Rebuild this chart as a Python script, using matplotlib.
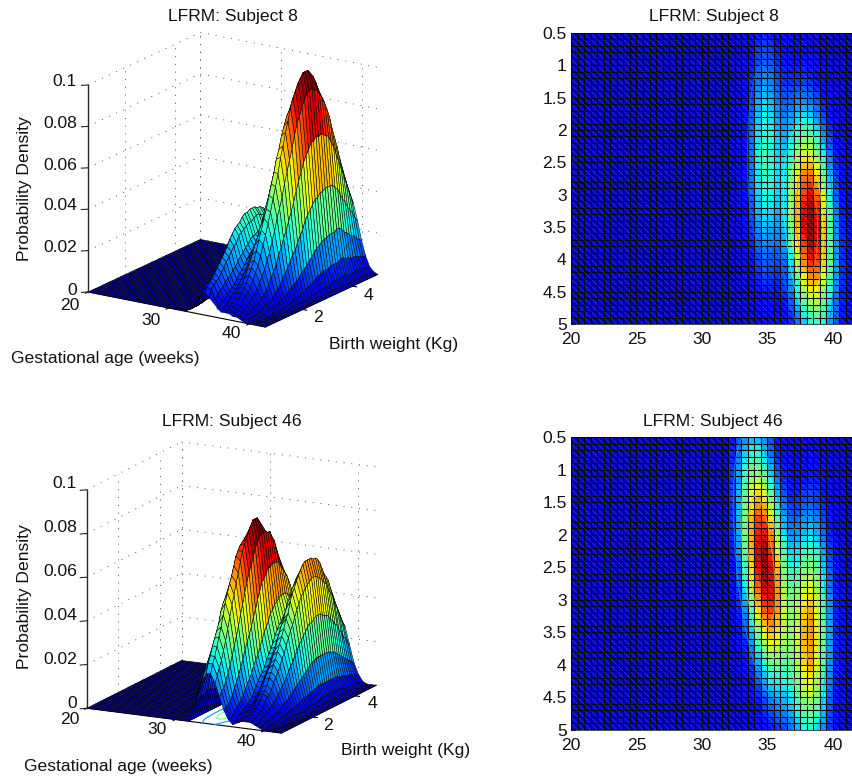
import numpy as np
import matplotlib
matplotlib.use('Agg')
import matplotlib.pyplot as plt
from matplotlib.collections import LineCollection
from matplotlib.colors import Normalize

plt.rcParams['font.family'] = ['Liberation Sans', 'DejaVu Sans']
FS = 12.6
W, H = 852, 781

# grid: 0.5 weeks x 0.1 kg
weeks = np.arange(20, 42.01, 0.5)
weights = np.arange(0.5, 5.01, 0.1)

# density x 1000, columns are 32 .. 42 weeks (below 32 weeks it is flat zero)
subject8 = [
    [0,1,2,6,9,11,9,7,5,3,3,3,2,2,1,0,0,0,0,0,0],
    [0,1,3,7,11,13,12,8,5,4,4,4,3,2,1,1,0,0,0,0,0],
    [0,1,3,8,13,15,14,10,7,5,5,5,4,3,2,1,0,0,0,0,0],
    [0,1,3,8,14,16,15,11,7,6,6,6,5,4,2,1,0,0,0,0,0],
    [0,1,4,9,15,18,16,12,9,8,8,8,7,5,3,1,1,0,0,0,0],
    [0,2,4,10,17,20,18,14,10,9,10,10,9,6,4,2,1,0,0,0,0],
    [0,2,4,11,19,22,20,15,11,11,12,12,10,8,5,2,1,0,0,0,0],
    [0,2,5,12,20,24,22,16,12,12,13,14,12,9,5,3,1,0,0,0,0],
    [1,2,5,13,22,26,24,18,14,14,16,17,15,11,7,4,2,1,0,0,0],
    [1,2,6,14,24,28,26,19,16,16,19,20,18,14,8,4,2,1,0,0,0],
    [1,2,6,15,26,31,28,21,17,18,22,23,21,16,10,5,2,1,0,0,0],
    [1,3,6,16,27,33,29,23,19,21,25,27,25,19,12,6,3,1,0,0,0],
    [1,3,7,17,29,35,32,24,21,24,29,32,30,23,15,8,3,1,0,0,0],
    [1,3,7,18,30,36,33,26,23,26,32,36,34,26,17,9,4,1,0,0,0],
    [1,3,7,19,31,37,34,27,24,28,36,41,39,31,20,11,5,2,1,0,0],
    [1,3,8,19,32,39,35,29,26,31,39,45,44,35,24,13,6,2,1,0,0],
    [1,3,8,20,33,40,36,30,27,34,44,51,50,41,27,15,7,3,1,0,0],
    [1,3,8,20,33,40,36,30,29,36,47,56,55,45,31,17,8,3,1,0,0],
    [1,3,8,20,34,41,37,31,30,38,52,61,61,50,34,20,9,3,1,0,0],
    [1,3,8,20,34,41,38,32,32,41,56,67,68,56,38,22,10,4,1,0,0],
    [1,3,8,20,34,41,38,33,33,43,59,71,73,61,42,24,11,4,1,0,0],
    [1,3,8,20,33,40,37,32,33,46,63,77,79,66,46,27,13,5,2,0,0],
    [1,3,8,20,33,40,37,32,34,47,65,81,84,71,51,30,14,6,2,1,0],
    [1,3,8,19,32,39,36,32,34,48,68,85,90,77,55,32,15,6,2,1,0],
    [1,3,7,19,31,38,35,31,33,48,69,87,94,82,59,36,17,7,2,1,0],
    [1,3,7,18,30,36,34,30,33,49,70,89,97,85,63,38,18,8,3,1,0],
    [1,3,7,17,29,35,33,29,33,49,72,92,100,89,66,40,20,9,3,1,0],
    [1,3,6,16,27,33,31,27,32,49,72,93,102,92,68,42,21,9,3,1,0],
    [1,2,6,15,26,31,30,26,31,48,72,95,104,95,71,44,22,10,3,1,0],
    [1,2,6,14,24,29,27,25,30,47,72,95,104,95,71,44,23,10,3,1,0],
    [1,2,5,13,22,27,25,23,28,45,70,94,104,96,73,46,24,10,4,1,0],
    [0,2,5,12,20,25,23,22,26,43,68,91,102,94,72,46,24,11,4,1,0],
    [0,2,4,11,19,23,22,20,25,41,65,88,100,94,73,47,25,11,4,1,0],
    [0,2,4,10,17,21,19,18,23,39,62,84,97,91,72,47,25,11,4,1,0],
    [0,1,4,9,15,19,17,17,21,35,59,81,93,89,71,47,25,11,4,1,0],
    [0,1,3,8,14,17,16,15,18,32,54,77,89,86,70,47,26,12,5,1,0],
    [0,1,3,8,13,16,15,13,17,29,50,71,83,82,67,45,26,12,4,1,0],
    [0,1,3,7,11,14,13,12,15,27,45,66,78,78,64,44,25,11,4,1,0],
    [0,1,2,6,9,12,11,10,14,24,41,60,72,72,60,41,23,11,4,1,0],
    [0,1,2,5,9,10,10,9,13,23,38,56,67,67,56,38,22,10,4,1,0],
    [0,1,2,4,7,8,8,7,11,19,34,49,61,62,52,36,21,10,4,1,0],
    [0,1,1,4,6,7,7,7,9,17,30,44,54,56,48,33,19,10,4,1,0],
    [0,0,1,3,5,6,6,5,8,15,26,39,49,51,44,31,19,9,4,1,0],
    [0,0,1,3,4,5,5,5,7,12,22,34,43,46,40,29,17,9,3,1,0],
    [0,0,1,2,3,4,4,4,6,11,19,30,38,41,36,26,16,8,3,1,0],
    [0,0,1,2,3,4,4,3,5,9,17,25,33,36,32,24,15,8,3,1,0],
]

subject46 = [
    [7,13,19,23,23,19,13,7,3,1,2,3,3,3,2,1,0,0,0,0,0],
    [8,15,22,27,27,22,15,8,3,2,2,3,3,3,2,1,0,0,0,0,0],
    [9,16,25,30,30,25,16,9,4,2,3,4,4,4,2,1,1,0,0,0,0],
    [9,18,27,34,34,28,19,10,5,4,4,4,5,4,3,2,1,0,0,0,0],
    [10,19,29,37,38,32,22,12,7,4,5,5,6,5,4,2,1,0,0,0,0],
    [10,20,31,40,42,36,25,15,8,5,5,6,7,6,4,2,1,0,0,0,0],
    [10,20,33,43,47,41,29,17,9,6,6,7,8,7,5,3,1,0,0,0,0],
    [11,22,36,48,52,46,33,20,11,7,7,9,10,9,6,3,1,0,0,0,0],
    [11,22,37,51,56,51,37,23,13,8,8,11,12,11,7,4,2,1,0,0,0],
    [11,22,38,53,60,55,41,26,15,9,10,12,13,11,8,4,2,1,0,0,0],
    [10,22,39,55,63,60,46,30,17,11,11,14,15,13,9,5,2,1,0,0,0],
    [10,23,40,57,67,64,50,33,19,13,13,17,18,16,11,6,2,1,0,0,0],
    [10,22,40,59,71,69,55,36,22,15,15,19,20,18,12,7,3,1,0,0,0],
    [10,22,40,60,73,73,59,39,24,17,17,21,23,20,14,7,3,1,0,0,0],
    [9,21,40,61,75,76,63,43,26,18,19,23,25,22,15,8,3,1,0,0,0],
    [9,20,39,60,76,78,66,46,29,20,21,26,28,25,17,9,4,1,0,0,0],
    [8,20,38,60,77,81,69,50,32,23,24,28,31,27,19,10,4,1,0,0,0],
    [8,19,37,60,78,83,73,53,35,25,26,32,34,30,21,11,5,1,0,0,0],
    [7,18,35,58,78,85,75,57,37,27,28,35,37,33,22,12,5,2,0,0,0],
    [6,16,34,56,77,85,77,58,39,29,31,38,41,36,25,13,6,2,0,0,0],
    [6,15,32,54,75,85,78,60,42,32,33,40,43,38,26,14,6,2,0,0,0],
    [5,14,30,52,72,83,78,62,43,34,36,44,48,41,29,15,6,2,1,0,0],
    [5,13,27,48,69,81,78,62,45,36,38,47,51,44,30,16,7,2,1,0,0],
    [4,11,25,46,66,78,77,63,46,37,41,49,53,46,32,17,7,2,1,0,0],
    [4,10,23,42,63,76,77,63,47,39,42,52,56,49,33,18,7,2,1,0,0],
    [3,9,21,39,59,73,74,63,48,40,45,54,58,50,35,19,8,3,1,0,0],
    [3,8,19,35,54,69,72,62,48,42,46,56,60,52,36,19,8,3,1,0,0],
    [2,7,17,32,50,64,68,60,48,42,46,57,62,53,36,20,8,3,1,0,0],
    [2,6,14,28,45,59,64,58,47,43,48,58,63,54,37,20,8,3,1,0,0],
    [2,5,13,25,41,55,61,56,46,42,49,59,63,55,38,20,8,3,1,0,0],
    [1,4,11,22,37,51,57,54,45,42,49,59,63,55,38,20,8,3,1,0,0],
    [1,4,9,20,33,46,53,51,44,42,49,59,63,55,38,20,8,3,1,0,0],
    [1,3,8,17,29,41,48,47,41,41,48,58,62,54,37,20,8,3,1,0,0],
    [1,3,7,14,25,36,43,43,39,40,46,57,62,53,36,20,8,3,1,0,0],
    [1,2,6,12,22,32,39,40,37,38,46,56,61,52,36,19,8,3,1,0,0],
    [0,2,5,10,19,28,35,37,35,36,45,54,59,50,35,19,8,3,1,0,0],
    [0,1,4,9,16,24,31,32,32,35,42,52,56,49,33,18,7,2,1,0,0],
    [0,1,3,7,14,21,28,29,30,32,40,50,53,46,32,17,7,2,1,0,0],
    [0,1,2,6,11,18,24,26,27,30,38,48,51,44,30,16,7,2,1,0,0],
    [0,1,2,5,9,15,20,23,24,28,36,45,49,42,29,15,6,2,1,0,0],
    [0,0,1,3,7,12,17,20,22,26,33,41,45,38,26,14,6,2,0,0,0],
    [0,0,1,3,6,11,15,18,20,24,31,39,42,36,25,13,6,2,0,0,0],
    [0,0,1,2,5,9,12,15,17,21,28,35,38,33,22,12,5,2,0,0,0],
    [0,0,1,2,4,7,10,13,15,18,25,32,35,30,21,11,5,1,0,0,0],
    [0,0,1,2,4,6,8,10,12,16,22,29,32,27,19,10,4,1,0,0,0],
    [0,0,1,2,3,5,7,9,11,14,20,26,29,25,17,9,4,1,0,0,0],
]

z_ticks = [0, 0.02, 0.04, 0.06, 0.08, 0.1]
z_labels = ['0', '0.02', '0.04', '0.06', '0.08', '0.1']
age_ticks_3d = [20, 30, 40]
weight_ticks_3d = [2, 4]
age_ticks_2d = [20, 25, 30, 35, 40]
weight_ticks_2d = [0.5, 1, 1.5, 2, 2.5, 3, 3.5, 4, 4.5, 5]
contour_levels = [0.02, 0.04, 0.06, 0.08, 0.1]


def full_grid(table):
    left = np.zeros((len(table), 24))
    return np.hstack([left, np.array(table, dtype=float)]) / 1000.0


def label(x, y, s, ha='center', va='center', **kw):
    fig.text(x / W, 1 - y / H, s, ha=ha, va=va, fontsize=FS, color='#111111', **kw)


def rect(left, top, right, bottom):
    return [left / W, 1 - bottom / H, (right - left) / W, (bottom - top) / H]


def draw_surface(z, norm, pos, elev, azim, aspect):
    ax = fig.add_axes(rect(*pos), projection='3d')
    ax.set_proj_type('ortho')
    ax.set_box_aspect(aspect)
    ax.view_init(elev=elev, azim=azim)
    ax.computed_zorder = False
    ax.set_xlim(20, 42)
    ax.set_ylim(0.5, 5)
    ax.set_zlim(0, 0.1)
    ax.set_axis_off()
    ax.patch.set_alpha(0)

    # dotted grid on both back walls
    dots = dict(color='0.35', lw=0.7, linestyle=(0, (1, 7)), zorder=1)
    for v in z_ticks:
        ax.plot([20, 20], [0.5, 5], [v, v], **dots)
        ax.plot([20, 42], [5, 5], [v, v], **dots)
    for v in age_ticks_3d:
        ax.plot([v, v], [5, 5], [0, 0.1], **dots)
    for v in weight_ticks_3d:
        ax.plot([20, 20], [v, v], [0, 0.1], **dots)
    ax.plot([20, 20], [5, 5], [0, 0.1], **dots)

    # axis lines and ticks
    solid = dict(color='k', lw=0.8, zorder=2)
    ax.plot([20, 42], [0.5, 0.5], [0, 0], **solid)
    ax.plot([42, 42], [0.5, 5], [0, 0], **solid)
    for v in age_ticks_3d:
        ax.plot([v, v], [0.5, 0.4], [0, 0], **solid)
    for v in weight_ticks_3d:
        ax.plot([42, 42.5], [v, v], [0, 0], **solid)

    # contours on the floor, only visible where the surface lifts off
    ax.contour(weeks, weights, z, levels=contour_levels, cmap='jet', norm=norm,
               offset=0, zdir='z', linewidths=0.8, zorder=2)

    x, y = np.meshgrid(weeks, weights)
    ax.plot_surface(x, y, z, rstride=1, cstride=1, facecolors=plt.cm.jet(norm(z)),
                    shade=False, edgecolor='k', linewidth=0.35, zorder=3)

    ax.plot([20, 20], [0.5, 0.5], [0, 0.1], color='0.15', lw=1.0, zorder=4)
    for v in z_ticks:
        ax.plot([20, 19.5], [0.5, 0.4], [v, v], color='0.15', lw=0.8, zorder=4)
    return ax


def draw_heat(z, norm, pos):
    ax = fig.add_axes(rect(*pos))
    ax.pcolormesh(weeks, weights, z[:-1, :-1], cmap='jet', norm=norm, antialiased=True,
                  edgecolors='k', linewidth=0.75, shading='flat')
    # surf triangles show up as a faint diagonal in each cell
    segs = [[(a, b), (a + 0.5, b + 0.1)] for a in weeks[:-1] for b in weights[:-1]]
    ax.add_collection(LineCollection(segs, colors='#9fd0ff', linewidths=0.4, alpha=0.35))
    ax.contour(weeks, weights, z, levels=contour_levels, cmap='jet', norm=norm,
               linewidths=0.8, alpha=0.7)
    ax.set_xlim(20, 42)
    ax.set_ylim(5, 0.5)
    ax.set_xticks(age_ticks_2d)
    ax.set_yticks(weight_ticks_2d)
    ax.set_yticklabels(['0.5', '1', '1.5', '2', '2.5', '3', '3.5', '4', '4.5', '5'])
    ax.tick_params(direction='in', length=3, width=0.5, labelsize=FS, colors='#111111')
    ax.tick_params(axis='x', pad=5.5)
    ax.tick_params(axis='y', pad=3)
    for s in ax.spines.values():
        s.set_linewidth(0.5)
    return ax


fig = plt.figure(figsize=(W / 100, H / 100), dpi=100)

z8 = full_grid(subject8)
z46 = full_grid(subject46)
norm8 = Normalize(-0.006, 0.104)
norm46 = Normalize(-0.005, 0.085)

# subject 8
draw_surface(z8, norm8, (50, 6.5, 406, 362.5), 17.7, -57, (212, 207, 218))
draw_heat(z8, norm8, (571, 33, 859, 324))
label(233, 17, 'LFRM: Subject 8')
label(714, 17, 'LFRM: Subject 8')
for s, y in zip(z_labels, [290, 248, 206, 165, 123, 82]):
    label(77, y, s, ha='right')
for s, x, y in zip(age_ticks_3d, [70, 151, 231], [306, 321, 333]):
    label(x, y, str(s))
for s, x, y in zip(weight_ticks_3d, [318, 368], [318, 296]):
    label(x, y, str(s))
label(11, 358, 'Gestational age (weeks)', ha='left')
label(329, 344, 'Birth weight (Kg)', ha='left')
label(25, 189, 'Probability Density', rotation=90)

# subject 46
draw_surface(z46, norm46, (43, 409, 410, 776), 14.7, -63.3, (219, 212, 227))
draw_heat(z46, norm46, (571, 437, 859, 730))
label(232, 422, 'LFRM: Subject 46')
label(713, 422, 'LFRM: Subject 46')
for s, y in zip(z_labels, [703, 660, 616, 572, 528, 484]):
    label(77, y, s, ha='right')
for s, x, y in zip(age_ticks_3d, [70, 157, 246], [720, 730, 742]):
    label(x, y, str(s))
for s, x, y in zip(weight_ticks_3d, [328, 372], [725, 703]):
    label(x, y, str(s))
label(24, 766, 'Gestational age (weeks)', ha='left')
label(341, 750, 'Birth weight (Kg)', ha='left')
label(25, 597, 'Probability Density', rotation=90)

fig.savefig('out.png', dpi=100)
